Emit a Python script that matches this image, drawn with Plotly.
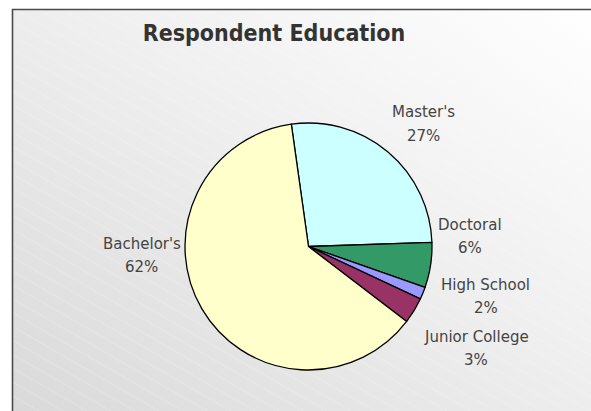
import base64
import plotly.graph_objects as go

labels = ["Master's", "Doctoral", "High School", "Junior College", "Bachelor's"]
values = [26.7, 5.9, 1.6, 3.4, 62.4]
colors = ["#CCFFFF", "#339966", "#9999FF", "#993366", "#FFFFCC"]

# label block centres (pixels from top-left), styling only
label_pos = [(423.5, 124), (470, 236), (485.5, 296.5), (476, 348), (141.5, 255.5)]
line_gap = 23

W, H = 591, 411

svg = f'''<svg xmlns="http://www.w3.org/2000/svg" width="{W}" height="{H}" viewBox="0 0 {W} {H}" preserveAspectRatio="none">
<defs>
<linearGradient id="g" x1="0" y1="1" x2="1" y2="0">
<stop offset="0" stop-color="#d9d9d9"/>
<stop offset="0.55" stop-color="#efefef"/>
<stop offset="1" stop-color="#ffffff"/>
</linearGradient>
<pattern id="p" width="12" height="12" patternUnits="userSpaceOnUse" patternTransform="rotate(30)">
<line x1="0" y1="0" x2="12" y2="0" stroke="#ffffff" stroke-width="1" stroke-opacity="0.35"/>
</pattern>
</defs>
<rect width="{W}" height="{H}" fill="#ffffff"/>
<rect x="12" y="9" width="{W}" height="{H}" fill="url(#g)"/>
<rect x="12" y="9" width="{W}" height="{H}" fill="url(#p)"/>
<line x1="12.5" y1="9" x2="12.5" y2="{H}" stroke="#4a4a4a" stroke-width="1.6"/>
<line x1="12" y1="9.5" x2="{W}" y2="9.5" stroke="#4a4a4a" stroke-width="1.6"/>
</svg>'''
src = "data:image/svg+xml;base64," + base64.b64encode(svg.encode()).decode()

cx, cy, r = 308.5, 246.5, 123.5

fig = go.Figure(go.Pie(
    labels=labels,
    values=values,
    sort=False,
    direction="clockwise",
    rotation=-8,
    marker=dict(colors=colors, line=dict(color="#000000", width=1.3)),
    textinfo="none",
    showlegend=False,
    hoverinfo="label+percent",
    domain=dict(x=[(cx - r) / W, (cx + r) / W], y=[(H - cy - r) / H, (H - cy + r) / H]),
))

total = sum(values)
font = dict(family="DejaVu Sans", size=15, color="#444444")
annotations = []
for lab, v, (px, py) in zip(labels, values, label_pos):
    for txt, dy in ((lab, -line_gap / 2), (f"{round(v / total * 100)}%", line_gap / 2)):
        annotations.append(dict(
            text=txt, x=px / W, y=1 - (py + dy) / H, xref="paper", yref="paper",
            xanchor="center", yanchor="middle", showarrow=False, font=font,
        ))

fig.update_layout(
    width=W, height=H,
    margin=dict(l=0, r=0, t=0, b=0),
    paper_bgcolor="#ffffff",
    images=[dict(source=src, xref="paper", yref="paper", x=0, y=1, sizex=1, sizey=1,
                 xanchor="left", yanchor="top", sizing="stretch", layer="below")],
    annotations=annotations,
    title=dict(text="<b>Respondent Education</b>", x=274 / W, xanchor="center",
               y=1 - 33 / H, yanchor="middle",
               font=dict(family="DejaVu Sans Condensed, DejaVu Sans", size=23, color="#333333")),
)

fig.write_html("out.html")
